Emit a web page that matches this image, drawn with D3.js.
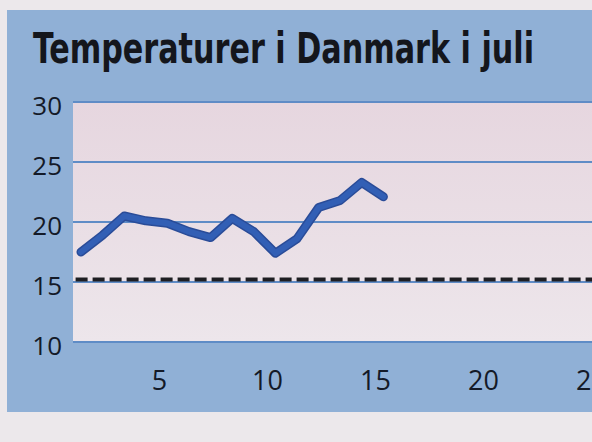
<!DOCTYPE html>
<html><head><meta charset="utf-8">
<script src="https://cdn.jsdelivr.net/npm/d3@7"></script>
<style>html,body{margin:0;padding:0;background:#f2eef0;}svg{display:block;}</style>
</head><body>
<svg id="c" width="592" height="442"></svg>
<script>
const title = "Temperaturer i Danmark i juli";
const days = [1,2,3,4,5,6,7,8,9,10,11,12,13,14,15];
const temps = [17.5,18.9,20.5,20.1,19.9,19.2,18.7,20.3,19.2,17.4,18.6,21.2,21.8,23.3,22.1];
const normalTemp = 15.2;
const yTicks = [10,15,20,25,30];
const xTicks = [5,10,15,20,25];

const svg = d3.select("#c");
const W = 592, H = 442;
const x = d3.scaleLinear().domain([0,25]).range([59.4,599.4]);
const y = d3.scaleLinear().domain([10,30]).range([342,102]);
const plotL = 73, plotR = 600;

const defs = svg.append("defs");
const g = defs.append("linearGradient").attr("id","pg").attr("x1",0).attr("x2",0).attr("y1",0).attr("y2",1);
g.append("stop").attr("offset","0%").attr("stop-color","#e6d6df");
g.append("stop").attr("offset","100%").attr("stop-color","#ede6eb");

// paper + blue panel
svg.append("rect").attr("x",0).attr("y",0).attr("width",W).attr("height",H).attr("fill","#ece8eb");
svg.append("rect").attr("x",7).attr("y",10).attr("width",W-7).attr("height",402).attr("fill","#90b0d6");
// plot area
svg.append("rect").attr("x",plotL).attr("y",y(30)).attr("width",plotR-plotL).attr("height",y(10)-y(30)).attr("fill","url(#pg)");

// title
svg.append("text").attr("x",33).attr("y",63).text(title)
  .attr("font-family","'Liberation Sans Narrow','DejaVu Sans Condensed','Roboto',sans-serif")
  .attr("font-weight","bold").attr("font-size",43).attr("fill","#14161c")
  .attr("textLength",501).attr("lengthAdjust","spacingAndGlyphs");

// grid
svg.append("g").selectAll("line").data(yTicks).join("line")
  .attr("x1",plotL).attr("x2",plotR).attr("y1",d=>y(d)).attr("y2",d=>y(d))
  .attr("stroke","#5f8cc6").attr("stroke-width",2);

// y labels
svg.append("g").selectAll("text").data(yTicks).join("text")
  .attr("x",62).attr("y",d=>y(d)+4).attr("dy","0.35em").attr("text-anchor","end")
  .attr("font-family","'Open Sans','Noto Sans',sans-serif").attr("font-size",26)
  .attr("fill","#141a28").text(d=>d);

// x labels
svg.append("g").selectAll("text").data(xTicks).join("text")
  .attr("x",d=>x(d)).attr("dx",-8).attr("y",381).attr("dy","0.35em").attr("text-anchor","middle")
  .attr("font-family","'Open Sans','Noto Sans',sans-serif").attr("font-size",27)
  .attr("fill","#141a28").text(d=>d);

// normal dashed line
svg.append("line").attr("x1",x(0.75)).attr("x2",plotR).attr("y1",y(normalTemp)).attr("y2",y(normalTemp))
  .attr("stroke","#1e1e22").attr("stroke-width",4).attr("stroke-dasharray","12,5");

// temperature line
const line = d3.line().x((d,i)=>x(days[i])).y(d=>y(d));
svg.append("path").datum(temps).attr("d",line).attr("fill","none")
  .attr("stroke","#2a4c98").attr("stroke-width",9).attr("stroke-linejoin","round").attr("stroke-linecap","round");
svg.append("path").datum(temps).attr("d",line).attr("fill","none")
  .attr("stroke","#325fb5").attr("stroke-width",6).attr("stroke-linejoin","round").attr("stroke-linecap","round");
</script>
</body></html>
